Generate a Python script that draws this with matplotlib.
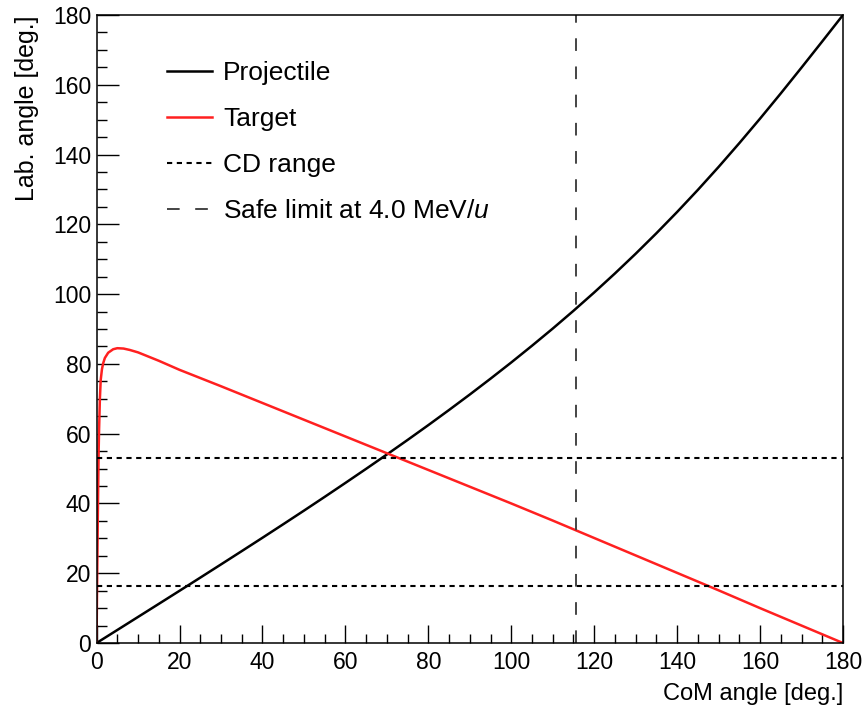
import matplotlib
matplotlib.use("Agg")
import matplotlib.pyplot as plt
from matplotlib.ticker import MultipleLocator

plt.rcParams['font.family'] = ['Liberation Sans', 'DejaVu Sans']
plt.rcParams['mathtext.fontset'] = 'custom'
plt.rcParams['mathtext.rm'] = 'Liberation Sans'
plt.rcParams['mathtext.it'] = 'Liberation Sans:italic'

# projectile: lab angle vs CoM angle
proj_com = [0, 5, 10, 15, 20, 25, 30, 35, 40, 45, 50, 55, 60, 65, 70, 75, 80, 85, 90,
            95, 100, 105, 110, 115, 120, 125, 130, 135, 140, 145, 150, 155, 160, 165,
            170, 175, 180]
proj_lab = [0, 3.73, 7.47, 11.21, 14.96, 18.73, 22.52, 26.33, 30.16, 34.03, 37.93,
            41.88, 45.88, 49.92, 54.03, 58.20, 62.45, 66.79, 71.22, 75.76, 80.41,
            85.20, 90.12, 95.21, 100.47, 105.92, 111.57, 117.44, 123.54, 129.87,
            136.45, 143.27, 150.30, 157.53, 164.93, 172.43, 180]

# target (recoil)
tgt_com = [0, 0.1, 0.2, 0.3, 0.4, 0.5, 0.6, 0.8, 1.0, 1.3, 1.6, 2.0, 2.8, 4.0, 5.0, 6.5, 8,
           10, 12.5, 15, 17.5, 20, 30, 40, 50, 60, 70, 80, 90, 100, 110, 120, 130, 140,
           150, 160, 170, 180]
tgt_lab = [0, 14, 25, 36, 46, 55, 61, 70, 75.4, 78.5, 80.2, 81.7, 83.2, 84.2, 84.5, 84.4,
           84.0, 83.3, 82.1, 80.9, 79.6, 78.3, 73.6, 68.8, 64.0, 59.2, 54.4, 49.6, 44.8,
           40.0, 35.1, 30.1, 25.1, 20.1, 15.1, 10.0, 5.0, 0]

cd_range = [16.3, 53.1]
safe_limit = 115.6

fig = plt.figure(figsize=(8.63, 7.08), dpi=100)
ax = fig.add_axes([0.1119, 0.0918, 0.8649, 0.887])

ax.plot(proj_com, proj_lab, color='black', lw=1.8, label='Projectile')
ax.plot(tgt_com, tgt_lab, color='#ff2020', lw=1.8, label='Target')
for i, y in enumerate(cd_range):
    ax.axhline(y, color='black', lw=1.5, ls=(0, (2.5, 2.2)),
               label='CD range' if i == 0 else None)
ax.axvline(safe_limit, color='#444444', lw=1.4, ls=(0, (6.5, 8)),
           label='Safe limit at 4.0 MeV/$u$')

ax.set_xlim(0, 180)
ax.set_ylim(0, 180)
ax.xaxis.set_major_locator(MultipleLocator(20))
ax.xaxis.set_minor_locator(MultipleLocator(5))
ax.yaxis.set_major_locator(MultipleLocator(20))
ax.yaxis.set_minor_locator(MultipleLocator(5))
ax.tick_params(axis='both', which='both', direction='in', top=False, right=False,
               labelsize=16.5, width=1.0)
ax.tick_params(axis='x', which='major', length=13, pad=6)
ax.tick_params(axis='x', which='minor', length=6.5)
ax.tick_params(axis='y', which='major', length=15.5, pad=4)
ax.tick_params(axis='y', which='minor', length=7.2)
for s in ax.spines.values():
    s.set_linewidth(1.1)

ax.set_xlabel('CoM angle [deg.]', fontsize=17, loc='right', labelpad=6)
ax.set_ylabel('Lab. angle [deg.]', fontsize=18, loc='top', labelpad=10)

ax.legend(loc='upper left', bbox_to_anchor=(0.063, 0.965), frameon=False,
          fontsize=19, handlelength=1.7, handletextpad=0.42, labelspacing=0.84)

fig.savefig('out.png', dpi=100)
